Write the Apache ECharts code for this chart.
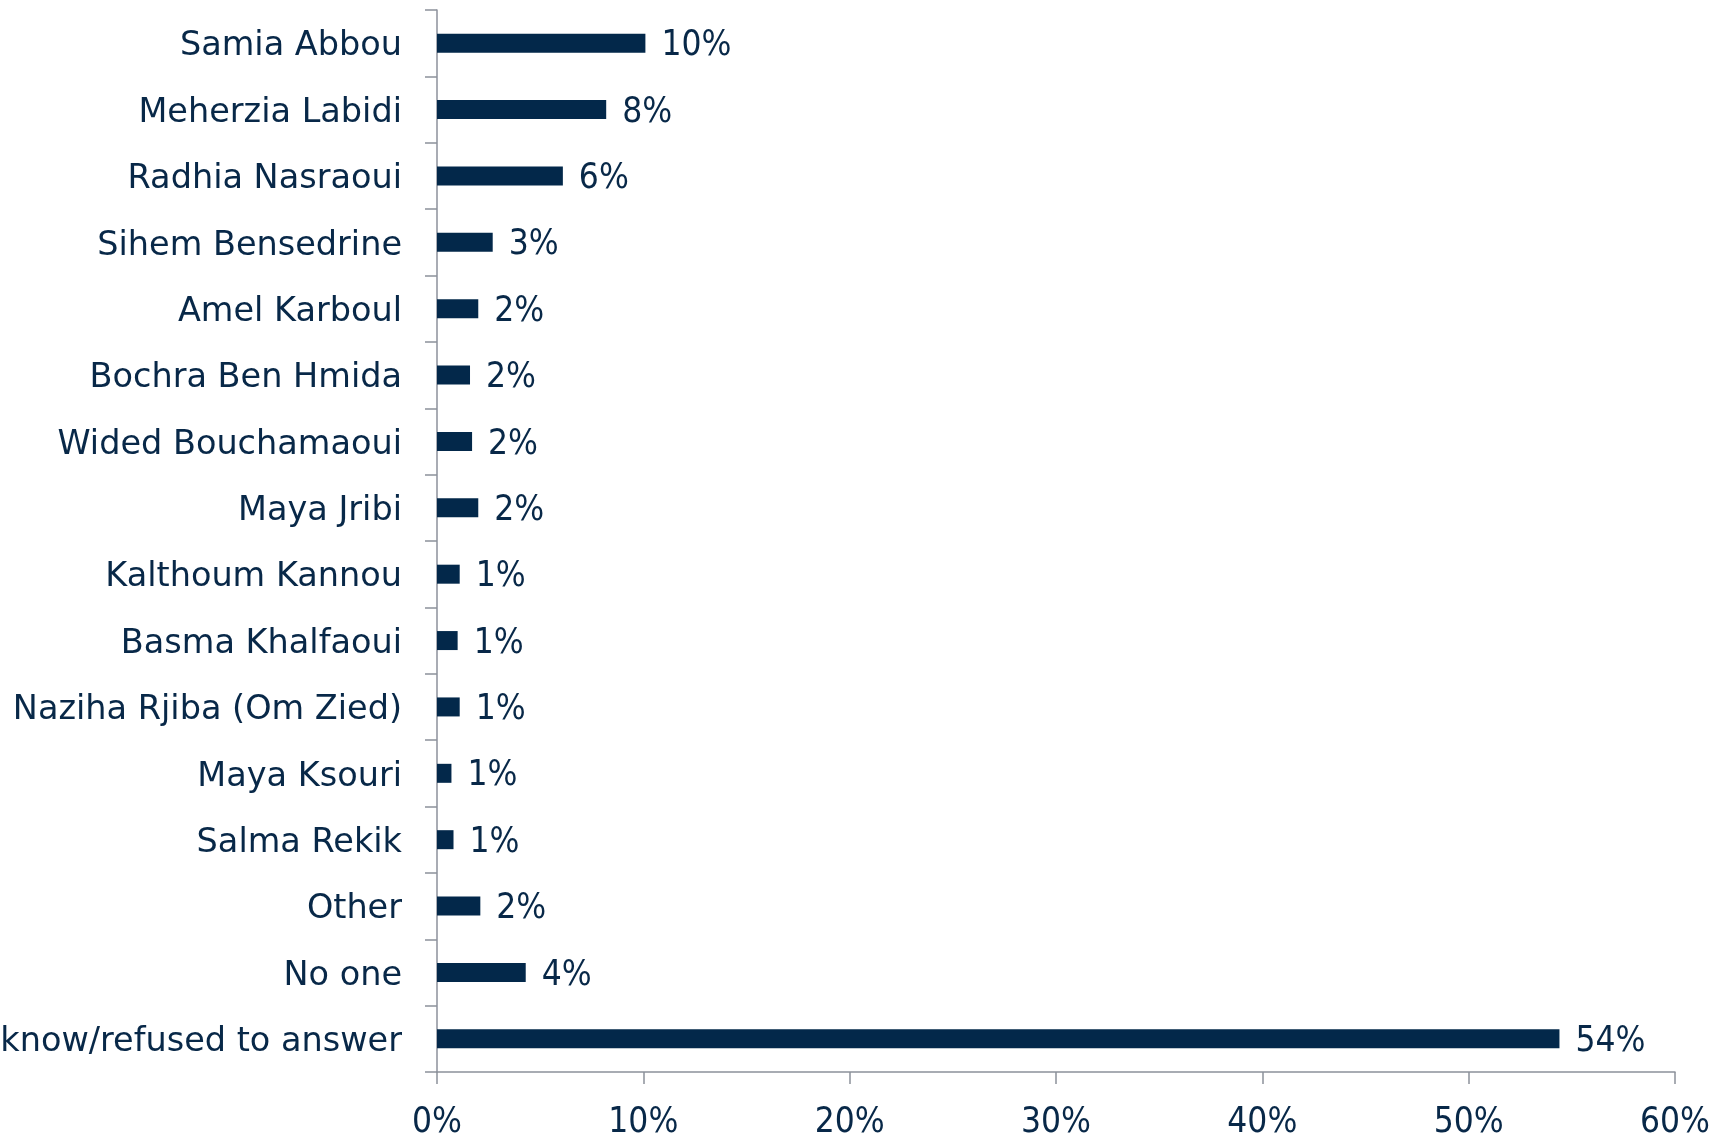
<!DOCTYPE html>
<html>
<head>
<meta charset="utf-8">
<script src="https://cdn.jsdelivr.net/npm/echarts@6/dist/echarts.min.js"></script>
<style>
html,body{margin:0;padding:0;background:#fff;}
#chart{width:1725px;height:1137px;}
</style>
</head>
<body>
<div id="chart"></div>
<script>
const categories = [
  "Samia Abbou", "Meherzia Labidi", "Radhia Nasraoui", "Sihem Bensedrine",
  "Amel Karboul", "Bochra Ben Hmida", "Wided Bouchamaoui", "Maya Jribi",
  "Kalthoum Kannou", "Basma Khalfaoui", "Naziha Rjiba (Om Zied)", "Maya Ksouri",
  "Salma Rekik", "Other", "No one", "Don't know/refused to answer"
];
const values = [10.1, 8.2, 6.1, 2.7, 2.0, 1.6, 1.7, 2.0, 1.1, 1.0, 1.1, 0.7, 0.8, 2.1, 4.3, 54.4];
const xTicks = [0, 10, 20, 30, 40, 50, 60];

const CAT_FONT = "'DejaVu Sans', sans-serif";
const NUM_FONT = "'DejaVu Sans Condensed', 'DejaVu Sans', sans-serif";
const NAVY = '#03284A';
const TEXT = '#082848';
const AXIS = '#8C919B';

const chart = echarts.init(document.getElementById('chart'), null, {renderer: 'canvas'});
chart.setOption({
  animation: false,
  grid: {left: 437, right: 50, top: 10, bottom: 65, containLabel: false, outerBoundsMode: 'none'},
  xAxis: {
    type: 'value',
    min: xTicks[0], max: xTicks[xTicks.length - 1], interval: 10,
    axisLine: {show: true, lineStyle: {color: AXIS, width: 1.5}},
    axisTick: {show: true, length: 12, lineStyle: {color: AXIS, width: 1.5}},
    splitLine: {show: false},
    axisLabel: {formatter: v => v + '%', color: TEXT, fontFamily: NUM_FONT, fontSize: 35, margin: 33}
  },
  yAxis: {
    type: 'category',
    inverse: true,
    data: categories,
    axisLine: {show: true, lineStyle: {color: AXIS, width: 1.5}},
    axisTick: {show: true, length: 12, alignWithLabel: false, lineStyle: {color: AXIS, width: 1.5}},
    axisLabel: {
      margin: 35,
      formatter: v => '{a|' + v + '}',
      rich: {a: {color: TEXT, fontFamily: CAT_FONT, fontSize: 33.5, padding: [7, 0, 0, 0]}}
    }
  },
  series: [{
    type: 'bar',
    data: values,
    barWidth: 19,
    itemStyle: {color: NAVY},
    label: {
      show: true, position: 'right', distance: 16, offset: [0, 3],
      formatter: p => Math.round(p.value) + '%',
      color: TEXT, fontFamily: NUM_FONT, fontSize: 35
    }
  }]
});
</script>
</body>
</html>
